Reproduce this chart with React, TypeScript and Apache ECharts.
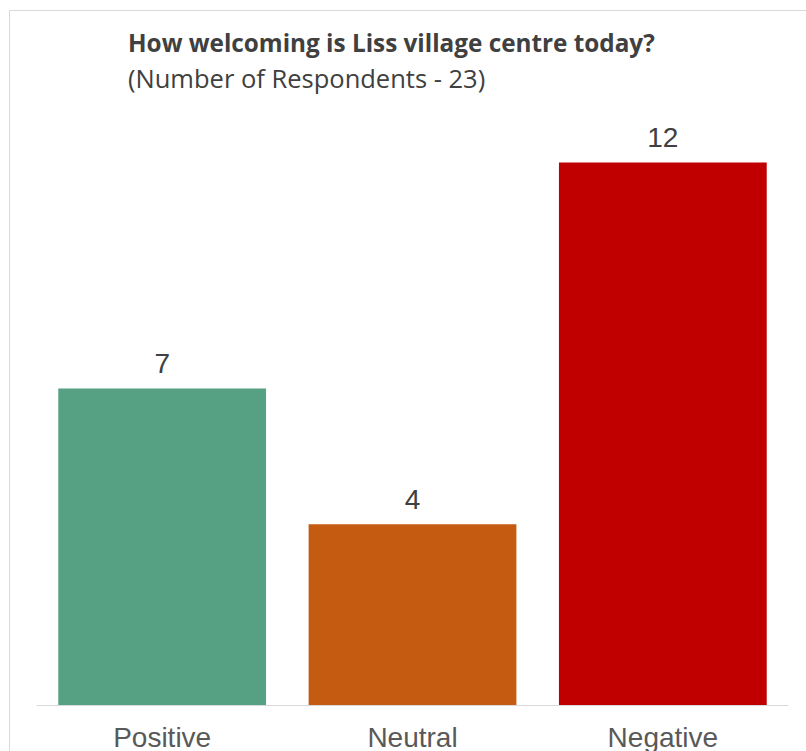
import React, { useEffect, useRef } from "react";
import * as echarts from "echarts";

const categories = ["Positive", "Neutral", "Negative"];
const values = [7, 4, 12];
const barColors = ["#56A083", "#C55A11", "#C00000"];
const titleText = "How welcoming is Liss village centre today?";
const subtitleText = "(Number of Respondents - 23)";

export default function App() {
  const ref = useRef<HTMLDivElement>(null);
  useEffect(() => {
    if (!ref.current) return;
    const chart = echarts.init(ref.current, undefined, { renderer: "svg" });
    chart.setOption({
      animation: false,
      backgroundColor: "#ffffff",
      title: {
        left: 123,
        top: 25,
        text: titleText,
        subtext: subtitleText,
        itemGap: 11,
        textStyle: { fontFamily: "Open Sans", fontWeight: "bold", fontSize: 24.3, color: "#404040" },
        subtextStyle: { fontFamily: "Open Sans", fontSize: 25.5, color: "#404040" },
      },
      graphic: [
        {
          type: "rect",
          shape: { x: 9.5, y: 10.5, width: 900, height: 900 },
          style: { fill: "none", stroke: "#D9D9D9", lineWidth: 1 },
          silent: true,
        },
      ],
      grid: { left: 37, right: 18, top: 72, bottom: 45, containLabel: false },
      xAxis: {
        type: "category",
        data: categories,
        axisLine: { show: true, lineStyle: { color: "#D9D9D9", width: 1 } },
        axisTick: { show: false },
        axisLabel: {
          color: "#595959",
          fontFamily: "Liberation Sans, Arial",
          fontSize: 28,
          margin: 18,
        },
      },
      yAxis: {
        type: "value",
        min: 0,
        max: 14,
        show: false,
        splitLine: { show: false },
      },
      series: [
        {
          type: "bar",
          barCategoryGap: "17%",
          data: values.map((v, i) => ({ value: v, itemStyle: { color: barColors[i] } })),
          label: {
            show: true,
            position: "top",
            distance: 11,
            color: "#404040",
            fontFamily: "Liberation Sans, Arial",
            fontSize: 28,
          },
        },
      ],
    });
    return () => chart.dispose();
  }, []);
  return (
    <div
      ref={ref}
      style={{ position: "absolute", left: 0, top: 0, width: 806, height: 751 }}
    />
  );
}
